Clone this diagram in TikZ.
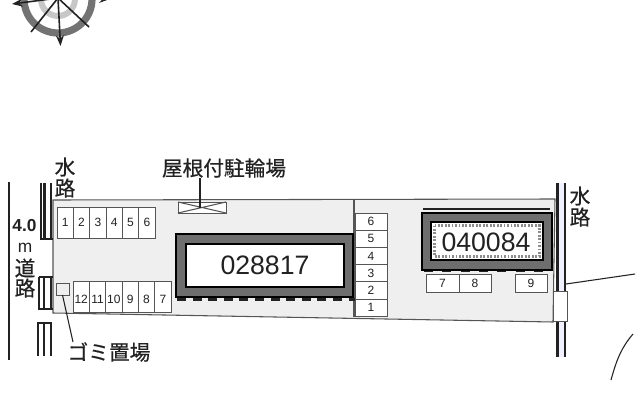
\documentclass[tikz,border=0pt]{standalone}
\usepackage{fontspec}
\setmainfont{Liberation Sans}
\newfontfamily\cjk[FakeBold=0.6]{Noto Sans CJK JP}
\usetikzlibrary{arrows.meta}
\definecolor{lot}{HTML}{EFEFEF}
\definecolor{wall}{HTML}{6E6E6E}
\definecolor{ink}{HTML}{222222}
\definecolor{soft}{HTML}{555555}
\tikzset{
  x=0.75pt,y=-0.75pt,
  every node/.style={inner sep=0pt,outer sep=0pt,text=ink},
  bay/.style={draw=soft,line width=0.75pt,fill=white},
  baynum/.style={font=\fontsize{9}{10}\selectfont},
  jp/.style={font=\cjk\fontsize{15.5}{16}\selectfont},
  bigid/.style={font=\fontsize{20}{21}\selectfont},
  thin line/.style={draw=ink,line width=0.8pt},
  channel/.style={draw=ink,line width=1.8pt},
  needle/.style={draw=ink,line width=1.2pt,-{Stealth[length=8pt,width=6pt]}},
}
\begin{document}
\begin{tikzpicture}
\useasboundingbox (0,0) rectangle (640,400);
\begin{scope}
\clip (0,0) rectangle (640,400);
% compass
\draw[black!55,line width=5.4pt] (58,-1) circle (34);
\draw[black!22,line width=4.5pt] (58,-1) circle (17);
\draw[needle] (58,-2) -- (60.5,46);
\draw[needle] (58,-2) -- (12,4);
\draw[thin line,line width=1.2pt] (58,-2) -- (31,32);
\draw[thin line,line width=1.2pt] (58,-2) -- (89,27);
\draw[needle] (58,-2) -- (110,-1);
% lot
\draw[fill=lot,draw=soft,line width=0.8pt] (53,200) -- (555,199) -- (553,322) -- (53,313) -- cycle;
\draw[thin line,draw=soft] (354,200) -- (354,317);
% left road and channels
\draw[thin line,line width=1.2pt] (9,182) -- (9,360);
\draw[channel] (41,183) -- (41,239) -- (53,239);
\draw[channel] (44.5,183) -- (44.5,239);
\draw[thin line,line width=1.2pt] (51,183) -- (51,239);
\draw[thin line,line width=1.1pt] (39,277) -- (39,309) -- (53,309);
\draw[channel] (44,277) -- (44,309);
\draw[thin line,line width=1.2pt] (51,277) -- (51,309);
\draw[thin line] (39,277) -- (53,277);
\draw[thin line,line width=1.1pt] (38,356) -- (38,323) -- (52,323);
\draw[thin line,line width=1.1pt] (44,323) -- (44,356);
\draw[thin line,line width=1.1pt] (51,323) -- (51,356);
% left bays, upper
\foreach \i/\t in {0/1,1/2,2/3,3/4,4/5,5/6}
  \node[bay,baynum,minimum width=16.3*0.75pt,minimum height=31*0.75pt,anchor=north west] (u\t) at ({57+\i*16.35},207) {\t};
% left bays, lower
\foreach \i/\t in {0/12,1/11,2/10,3/9,4/8,5/7}
  \draw[bay] ({73+\i*16.35},281) rectangle ({73+(\i+1)*16.35},312);
\foreach \i/\t in {0/12,1/11,2/10,3/9,4/8,5/7}
  \node[baynum] (l\t) at ({73+(\i+0.5)*16.35},299) {\t};
% bin
\node[bay,minimum width=13*0.75pt,minimum height=12*0.75pt,anchor=north west,fill=lot] (bin) at (56,283) {};
\coordinate (binlabel) at (73,342);
\draw[thin line] (bin.south) -- (binlabel);
% carport
\node[bay,minimum width=48*0.75pt,minimum height=11*0.75pt,anchor=north west] (port) at (178,202) {};
\draw[thin line,draw=soft] (port.north west) -- (port.south east) (port.south west) -- (port.north east);
\coordinate (portlabel) at (200,178);
\draw[thin line] (portlabel) -- (200,208);
% building 1
\foreach \i in {0,...,11} \fill[ink] ({177+\i*15.6},298) rectangle ({186+\i*15.6},301);
\draw[draw=black,fill=wall,line width=2.2pt] (176,234) rectangle (353,297);
\node[draw=black,fill=white,line width=2pt,minimum width=158*0.75pt,minimum height=43*0.75pt,anchor=north west,bigid] (b1) at (186,244) {028817};
% right bays
\foreach \i/\t in {0/6,1/5,2/4,3/3,4/2,5/1}
  \node[bay,baynum,minimum width=32*0.75pt,minimum height=17.2*0.75pt,anchor=north west] (r\t) at (355,{213+\i*17.2}) {\t};
% building 2
\draw[thin line] (423,209) -- (550,209);
\foreach \i in {0,...,6} \fill[ink] ({424+\i*18.3},270) rectangle ({433+\i*18.3},272);
\draw[draw=black,fill=wall,line width=2.2pt] (422,213) rectangle (552,270);
\draw[draw=black,fill=white,line width=2.2pt] (431,222) rectangle (543,260);
\draw[draw=black!45,line width=1.8pt,dash pattern=on 1.4pt off 1.2pt] (434.5,225.5) rectangle (539.5,256.5);
\node[bigid] (b2) at (486,242) {040084};
\node[bay,baynum,minimum width=33*0.75pt,minimum height=18*0.75pt,anchor=north west] (s7) at (426,274) {7};
\node[bay,baynum,minimum width=32*0.75pt,minimum height=18*0.75pt,anchor=north west] (s8) at (459,274) {8};
\node[bay,baynum,minimum width=32*0.75pt,minimum height=18*0.75pt,anchor=north west] (s9) at (515,274) {9};
% right channel
\fill[blue!6] (557,183) rectangle (565,357);
\draw[channel] (557.5,183) -- (557.5,357);
\draw[channel] (565,183) -- (565,357);
\node[bay,minimum width=14*0.75pt,minimum height=30*0.75pt,anchor=north west] (bridge) at (553,291) {};
\coordinate (roadA) at (566,284);
\coordinate (roadB) at (635,274);
\draw[thin line] (roadA) -- (roadB);
\coordinate (curveA) at (611,380);
\coordinate (curveB) at (633,334);
\draw[thin line] (curveA) .. controls (617,358) and (622,347) .. (curveB);
\end{scope}
% labels
\node[jp] (w1a) at (65,167) {水};
\node[jp] (w1b) at (65,188) {路};
\node[font=\fontsize{13}{14}\selectfont\bfseries] (width) at (24.5,226) {4.0};
\node[font=\fontsize{13}{14}\selectfont] (m) at (25,248) {m};
\node[jp] (d1) at (25,268) {道};
\node[jp] (d2) at (25,288) {路};
\node[jp] (w2a) at (580,196) {水};
\node[jp] (w2b) at (580,217) {路};
\node[jp] (cp) at (224,168) {屋根付駐輪場};
\node[jp] (gm) at (109,352) {ゴミ置場};
\end{tikzpicture}
\end{document}
